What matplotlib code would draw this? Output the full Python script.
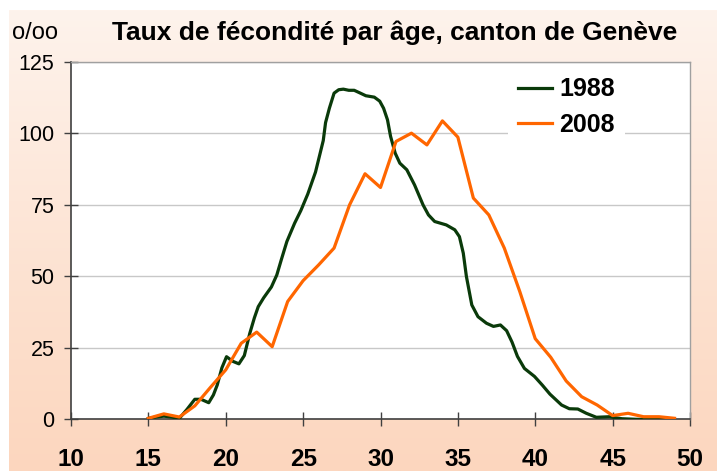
import numpy as np
import matplotlib
matplotlib.use('Agg')
import matplotlib.pyplot as plt

plt.rcParams['font.family'] = ['Liberation Sans', 'DejaVu Sans']

# taux de fecondite 1988 (lecture fine de la courbe)
age_1988 = [15.0, 15.5, 16.0, 16.5, 17.0, 17.5, 18.0, 18.4, 18.9, 19.2, 19.45, 19.75,
            20.05, 20.45, 20.85, 21.2, 21.55, 21.85, 22.1, 22.45, 22.95, 23.3, 23.6,
            23.95, 24.45, 24.85, 25.3, 25.8, 26.1, 26.3, 26.45, 26.7, 27.0, 27.3, 27.6,
            27.95, 28.3, 28.7, 29.05, 29.6, 29.95, 30.2, 30.45, 30.65, 30.95, 31.25,
            31.7, 32.2, 32.75, 33.1, 33.5, 34.25, 34.8, 35.1, 35.35, 35.55, 35.9, 36.3,
            36.85, 37.3, 37.75, 38.15, 38.5, 38.85, 39.3, 39.95, 40.45, 40.95, 41.7,
            42.2, 42.75, 43.3, 43.95, 44.8, 45.6, 46.5, 48.9]
taux_1988 = [0.3, 0.8, 1.1, 0.8, 0.3, 3.5, 7.0, 7.0, 5.8, 8.5, 12.0, 18.0,
             21.9, 20.3, 19.4, 22.3, 30.0, 35.5, 39.4, 42.5, 46.3, 50.5, 56.0,
             62.2, 68.6, 73.0, 78.8, 86.5, 93.1, 97.5, 103.8, 108.9, 114.1, 115.3, 115.5,
             115.1, 115.1, 114.1, 113.2, 112.7, 111.3, 108.8, 104.8, 99.0, 93.1, 89.6,
             87.3, 82.0, 75.0, 71.5, 69.2, 68.0, 66.3, 63.9, 58.1, 50.0, 40.0, 35.9,
             33.6, 32.5, 33.0, 31.0, 27.0, 22.0, 17.8, 15.0, 12.0, 8.8, 5.0,
             3.7, 3.6, 2.1, 0.7, 0.9, 0.2, 0.0, 0.0]

# taux de fecondite 2008 (par annee d'age)
age_2008 = list(range(15, 50))
taux_2008 = [0.35, 1.9, 0.8, 4.7, 11.1, 17.3, 26.6, 30.5, 25.4, 41.2, 48.5, 54.0,
             59.9, 75.0, 85.9, 81.1, 97.2, 100.1, 96.0, 104.4, 98.7, 77.4, 71.5,
             59.9, 44.7, 28.2, 21.7, 13.4, 7.9, 5.0, 1.3, 2.1, 0.9, 0.9, 0.35]

xticks = list(range(10, 51, 5))
yticks = list(range(0, 126, 25))

fig = plt.figure(figsize=(7.17, 4.71), dpi=100, facecolor='white')

# fond degrade
bg = fig.add_axes([9 / 717, 0, 1 - 9 / 717, (471 - 10) / 471])
grad = np.linspace(0, 1, 256)
top_c = np.array([254, 243, 236]) / 255
bot_c = np.array([252, 214, 190]) / 255
img = top_c[None, None, :] + (bot_c - top_c)[None, None, :] * grad[:, None, None]
bg.imshow(img, aspect='auto', extent=[0, 1, 0, 1], origin='upper')
bg.set_axis_off()

ax = fig.add_axes([71 / 717, 1 - 419.3 / 471, (690 - 71) / 717, (419.3 - 62) / 471])
ax.set_facecolor('white')
ax.plot(age_1988, taux_1988, color='#0a3a0a', lw=2.3, label='1988', zorder=3)
ax.plot(age_2008, taux_2008, color='#ff6600', lw=2.3, label='2008', zorder=4)

ax.set_xlim(10, 50)
ax.set_ylim(0, 125)
ax.set_xticks(xticks)
ax.set_yticks(yticks)
ax.tick_params(axis='x', direction='inout', length=10, width=1, color='#404040',
               pad=15.5, labelsize=17.5)
ax.tick_params(axis='y', direction='inout', length=10, width=1, color='#404040',
               pad=7, labelsize=15.5)
for lab in ax.get_xticklabels():
    lab.set_fontweight('bold')
ax.grid(axis='y', color='#c8c8c8', lw=1)
ax.set_axisbelow(True)
for s in ['left', 'bottom']:
    ax.spines[s].set_color('#404040')
    ax.spines[s].set_linewidth(1.2)
for s in ['top', 'right']:
    ax.spines[s].set_color('#a0a0a0')
    ax.spines[s].set_linewidth(1)

leg = ax.legend(loc='upper left', bbox_to_anchor=(0.706, 0.985), frameon=True,
                facecolor='white', edgecolor='none', framealpha=1, fancybox=False,
                prop={'weight': 'bold', 'size': 18}, handlelength=1.36,
                handletextpad=0.3, labelspacing=0.45, borderaxespad=0, borderpad=0.4)

fig.text(394.5 / 717, 1 - 33 / 471, 'Taux de fécondité par âge, canton de Genève',
         ha='center', va='center', fontsize=19, fontweight='bold')
fig.text(12 / 717, 1 - 33 / 471, 'o/oo', ha='left', va='center', fontsize=17)

fig.savefig('out.png', dpi=100, facecolor='white')
